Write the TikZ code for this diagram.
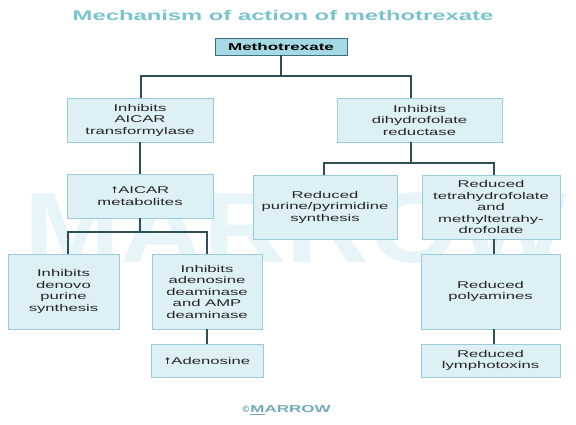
\documentclass[tikz,border=0pt]{standalone}
\usepackage{fontspec}
\usepackage{graphicx}
\setmainfont{Liberation Sans}[FakeStretch=1.7]
\newfontfamily\wmfont{Liberation Sans}[FakeStretch=1.15]
\newfontfamily\arrfont{DejaVu Sans}
\definecolor{boxfill}{HTML}{DDF0F5}
\definecolor{boxline}{HTML}{9CCAD6}
\definecolor{topfill}{HTML}{A6D9E6}
\definecolor{topline}{HTML}{3F6D78}
\definecolor{conn}{HTML}{2F4E55}
\definecolor{titlecol}{HTML}{7CC3CB}
\definecolor{wmcol}{HTML}{E8F5F8}
\definecolor{footcol}{HTML}{72AAB6}
\newcommand{\uparr}{{\arrfont\bfseries\fontsize{9}{9}\selectfont ↑}}
\tikzset{
  box/.style={draw=boxline, line width=0.8pt, fill=boxfill, align=center, inner sep=0pt,
    text=black!85, font=\fontsize{9.8}{11.5}\selectfont},
  topbox/.style={draw=topline, line width=0.9pt, fill=topfill, align=center, inner sep=0pt,
    text=black, font=\bfseries\fontsize{10}{12}\selectfont},
  link/.style={draw=conn, line width=1.8pt}
}
\begin{document}
\begin{tikzpicture}[x=1pt,y=-1pt]
\useasboundingbox[fill=white] (0,0) rectangle (576,425);
% watermark
\node[text=wmcol, inner sep=0pt] (wm) at (296,228) {\wmfont\bfseries\fontsize{100}{100}\selectfont MARROW};
% title
\node[text=titlecol, inner sep=0pt, font=\bfseries\fontsize{14}{16}\selectfont] (title) at (283,15) {Mechanism of action of methotrexate};
% boxes
\node[topbox, minimum width=132pt, minimum height=17pt] (M) at (281,46.5) {Methotrexate};
\node[box, minimum width=146pt, minimum height=44pt] (A1) at (140,120) {Inhibits\\AICAR\\transformylase};
\node[box, minimum width=165pt, minimum height=44pt] (D1) at (419.5,120) {Inhibits\\dihydrofolate\\reductase};
\node[box, minimum width=146pt, minimum height=44pt] (A2) at (140,196) {\uparr AICAR\\metabolites};
\node[box, minimum width=144pt, minimum height=64pt] (P) at (325,207) {Reduced\\purine/pyrimidine\\synthesis};
\node[box, minimum width=138pt, minimum height=64pt] (T) at (491,207) {Reduced\\tetrahydrofolate\\and\\methyltetrahy-\\drofolate};
\node[box, minimum width=111pt, minimum height=75pt] (L1) at (63.5,291.5) {Inhibits\\denovo\\purine\\synthesis};
\node[box, minimum width=110pt, minimum height=75pt] (L2) at (207,291.5) {Inhibits\\adenosine\\deaminase\\and AMP\\deaminase};
\node[box, minimum width=112pt, minimum height=33pt] (Ad) at (207,360.5) {\uparr Adenosine};
\node[box, minimum width=139pt, minimum height=75pt] (Po) at (490.5,291.5) {Reduced\\polyamines};
\node[box, minimum width=139pt, minimum height=33pt] (Ly) at (490.5,360.5) {Reduced\\lymphotoxins};
% footer
\node[text=footcol, inner sep=0pt, font=\bfseries\fontsize{10}{12}\selectfont] (foot) at (286,410) {{\arrfont\fontsize{9}{9}\selectfont ©}\underline{M}ARROW};
% connectors
\coordinate (j1) at (281,76);
\draw[link] (M.south) -- (j1);
\draw[link] ([xshift=1pt]A1.north) |- (j1) -| ([xshift=-8.5pt]D1.north);
\draw[link] (A1.south) -- (A2.north);
\coordinate (j2) at (411,163);
\draw[link] ([xshift=-8.5pt]D1.south) -- (j2);
\draw[link] ([xshift=-1pt]P.north) |- (j2) -| ([xshift=3pt]T.north);
\coordinate (j3) at (140,232);
\draw[link] (A2.south) -- (j3);
\draw[link] ([xshift=4.5pt]L1.north) |- (j3) -| (L2.north);
\draw[link] (L2.south) -- (Ad.north);
\draw[link] ([xshift=3pt]T.south) -- ([xshift=3.5pt]Po.north);
\draw[link] ([xshift=3.5pt]Po.south) -- ([xshift=3.5pt]Ly.north);
\end{tikzpicture}
\end{document}
